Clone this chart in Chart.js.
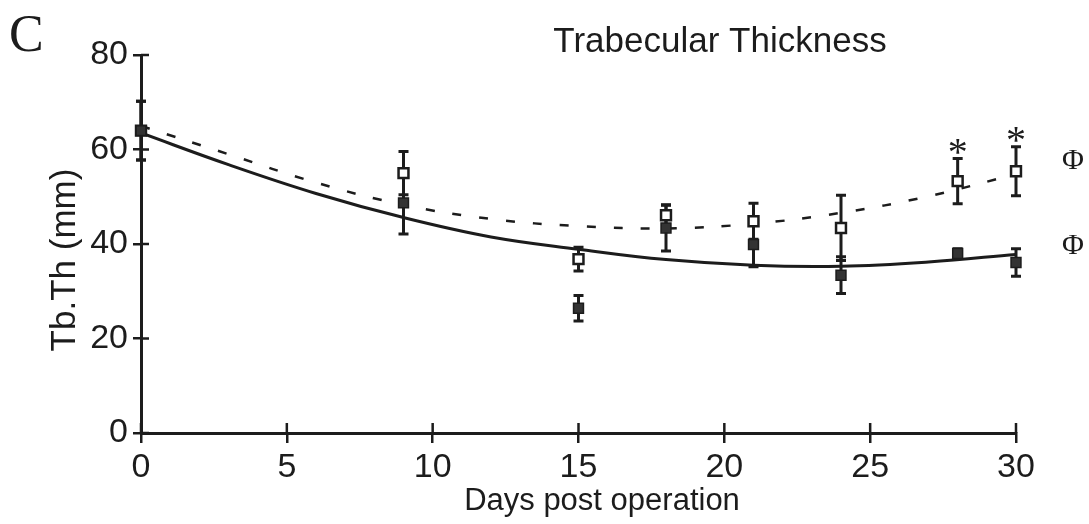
<!DOCTYPE html>
<html>
<head>
<meta charset="utf-8">
<script src="https://cdn.jsdelivr.net/npm/chart.js@4"></script>
<style>
html, body { margin: 0; padding: 0; background: #fff; }
</style>
</head>
<body>
<canvas id="tbthChart" width="1089" height="524"></canvas>
<script>
// sampling days and group means / SEM
var days = [0, 9, 15, 18, 21, 24, 28, 30];
var openMean = [64.0, 55.0, 36.8, 46.1, 44.8, 43.4, 53.3, 55.4];
var openErr = [6.2, 4.6, 2.5, 2.1, 3.8, 6.9, 4.8, 5.2];
var filledMean = [64.0, 48.7, 26.4, 43.4, 39.9, 33.4, 38.0, 36.1];
var filledErr = [6.2, 6.6, 2.7, 4.9, 4.7, 3.9, 1.0, 2.9];

// fitted curves, read every 3 days
var curveDays = [0, 3, 6, 9, 12, 15, 18, 21, 24, 27, 30];
var solidFit = [63.5, 56.8, 50.7, 45.6, 41.5, 38.9, 36.7, 35.5, 35.3, 36.2, 37.8];
var dashFit = [65.0, 59.0, 53.0, 48.3, 45.3, 43.8, 43.3, 44.3, 46.6, 50.1, 54.8];

// axis ticks
var xTicks = [0, 5, 10, 15, 20, 25, 30];
var yTicks = [0, 20, 40, 60, 80];

// significance marks
var starDays = [28, 30];
var phiValues = [58.0, 40.0];

var ink = '#1c1c1c';
var sans = '"Liberation Sans", Arial, sans-serif';
var serif = '"Liberation Serif", "Times New Roman", serif';

function pts(xs, ys) {
  return xs.map(function(x, i) { return {x: x, y: ys[i]}; });
}

// error bars under the markers
var errorBars = {
  id: 'errorBars',
  beforeDatasetsDraw: function(chart) {
    var xs = chart.scales.x, ys = chart.scales.y, ctx = chart.ctx;
    ctx.save();
    ctx.strokeStyle = ink;
    ctx.lineWidth = 3;
    [[openMean, openErr], [filledMean, filledErr]].forEach(function(g) {
      days.forEach(function(d, i) {
        var px = xs.getPixelForValue(d);
        var top = ys.getPixelForValue(g[0][i] + g[1][i]);
        var bot = ys.getPixelForValue(g[0][i] - g[1][i]);
        ctx.beginPath();
        ctx.moveTo(px, top); ctx.lineTo(px, bot);
        ctx.moveTo(px - 5, top); ctx.lineTo(px + 5, top);
        ctx.moveTo(px - 5, bot); ctx.lineTo(px + 5, bot);
        ctx.stroke();
      });
    });
    ctx.restore();
  }
};

// ticks crossing the axes, titles, panel letter, stars and phi marks
var extras = {
  id: 'extras',
  afterDraw: function(chart) {
    var xs = chart.scales.x, ys = chart.scales.y, ctx = chart.ctx;
    var area = chart.chartArea;
    ctx.save();
    ctx.strokeStyle = ink;
    ctx.lineWidth = 2.5;
    ctx.beginPath();
    xs.ticks.forEach(function(t) {
      var px = xs.getPixelForValue(t.value);
      ctx.moveTo(px, area.bottom); ctx.lineTo(px, area.bottom - 10);
    });
    ys.ticks.forEach(function(t) {
      var py = ys.getPixelForValue(t.value);
      ctx.moveTo(area.left, py); ctx.lineTo(area.left + 8, py);
    });
    ctx.stroke();

    ctx.fillStyle = ink;
    ctx.textBaseline = 'alphabetic';
    ctx.textAlign = 'center';
    ctx.font = '35px ' + sans;
    ctx.fillText('Trabecular Thickness', 720, 52);

    ctx.font = '31px ' + sans;
    ctx.fillText('Days post operation', 602, 510);

    ctx.save();
    ctx.translate(75, 260);
    ctx.rotate(-Math.PI / 2);
    ctx.font = '35px ' + sans;
    ctx.fillText('Tb.Th (mm)', 0, 0);
    ctx.restore();

    ctx.textAlign = 'left';
    ctx.font = '52px ' + serif;
    ctx.fillText('C', 9, 51);

    ctx.textAlign = 'center';
    ctx.font = '40px ' + serif;
    starDays.forEach(function(d) {
      var i = days.indexOf(d);
      var cap = ys.getPixelForValue(openMean[i] + openErr[i]);
      ctx.fillText('*', xs.getPixelForValue(d), cap - 12.5 + 19);
    });

    ctx.font = '30px ' + serif;
    phiValues.forEach(function(v) {
      ctx.fillText('\u03A6', area.right + 57, ys.getPixelForValue(v) + 10);
    });
    ctx.restore();
  }
};

new Chart(document.getElementById('tbthChart'), {
  type: 'scatter',
  data: {
    datasets: [
      {
        label: 'filled',
        data: pts(days, filledMean),
        pointStyle: 'rect',
        pointRadius: 7,
        backgroundColor: '#333',
        borderColor: ink,
        borderWidth: 1.5,
        clip: false
      },
      {
        label: 'open',
        data: pts(days, openMean),
        pointStyle: 'rect',
        pointRadius: 7,
        backgroundColor: '#fff',
        borderColor: ink,
        borderWidth: 2.5,
        clip: false
      },
      {
        type: 'line',
        label: 'solid fit',
        data: pts(curveDays, solidFit),
        borderColor: ink,
        borderWidth: 3,
        pointRadius: 0,
        tension: 0.4,
        fill: false
      },
      {
        type: 'line',
        label: 'dashed fit',
        data: pts(curveDays, dashFit),
        borderColor: ink,
        borderWidth: 2.5,
        borderDash: [9, 18],
        pointRadius: 0,
        tension: 0.4,
        fill: false
      }
    ]
  },
  options: {
    responsive: false,
    animation: false,
    layout: { padding: { top: 55, right: 73, bottom: 0, left: 0 } },
    plugins: {
      legend: { display: false },
      tooltip: { enabled: false }
    },
    scales: {
      x: {
        type: 'linear',
        min: 0,
        max: 30,
        afterBuildTicks: function(s) { s.ticks = xTicks.map(function(v) { return {value: v}; }); },
        afterFit: function(s) { s.height = 91; },
        border: { display: true, color: ink, width: 3 },
        grid: { drawOnChartArea: false, drawTicks: true, tickLength: 10, color: ink, lineWidth: 2.5 },
        ticks: { color: ink, padding: 4, font: { family: sans, size: 34 } }
      },
      y: {
        min: 0,
        max: 80,
        afterBuildTicks: function(s) { s.ticks = yTicks.map(function(v) { return {value: v}; }); },
        afterFit: function(s) { s.width = 141; },
        border: { display: true, color: ink, width: 3 },
        grid: { drawOnChartArea: false, drawTicks: true, tickLength: 8, color: ink, lineWidth: 2.5 },
        ticks: { color: ink, padding: 5, font: { family: sans, size: 34 } }
      }
    }
  },
  plugins: [errorBars, extras]
});
</script>
</body>
</html>
